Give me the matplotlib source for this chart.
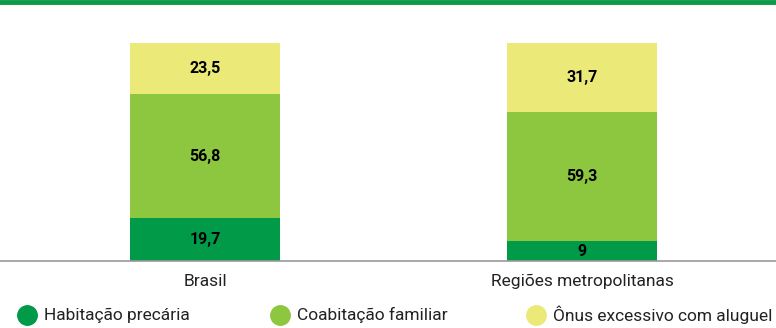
import matplotlib.pyplot as plt
from matplotlib.lines import Line2D

categories = ["Brasil", "Regiões metropolitanas"]
series_names = ["Habitação precária", "Coabitação familiar", "Ônus excessivo com aluguel"]
precaria = [19.7, 9]
coabitacao = [56.8, 59.3]
onus = [23.5, 31.7]
labels_precaria = ["19,7", "9"]
labels_coabitacao = ["56,8", "59,3"]
labels_onus = ["23,5", "31,7"]

colors = ["#009a49", "#8dc63f", "#ebe977"]

plt.rcParams["font.family"] = ["Roboto", "DejaVu Sans"]

fig = plt.figure(figsize=(7.76, 3.28), dpi=100)
ax = fig.add_axes([0, 67 / 328, 1, 218 / 328])

x = [0, 1]
bottoms = [0, 0]
for vals, labs, col in [(precaria, labels_precaria, colors[0]),
                        (coabitacao, labels_coabitacao, colors[1]),
                        (onus, labels_onus, colors[2])]:
    ax.bar(x, vals, bottom=bottoms, width=0.40, color=col, linewidth=0)
    for xi, b, v, lab in zip(x, bottoms, vals, labs):
        ax.text(xi, b + v / 2, lab, ha="center", va="center",
                fontsize=11.5, fontweight="bold", color="black")
    bottoms = [b + v for b, v in zip(bottoms, vals)]

ax.set_xlim(-205 / 377, 1 + 194 / 377)
ax.set_ylim(0, 100)
ax.set_xticks(x)
ax.set_xticklabels(categories, fontsize=12.5, color="#222222")
ax.tick_params(axis="x", length=0, pad=9)
ax.set_yticks([])
for s in ["top", "left", "right"]:
    ax.spines[s].set_visible(False)
ax.spines["bottom"].set_color("#999999")
ax.spines["bottom"].set_linewidth(1.2)

# top green rule
fig.add_artist(Line2D([0, 1], [1 - 2 / 328, 1 - 2 / 328], color="#0a9a4a",
                      linewidth=3.5, transform=fig.transFigure))

# legend
legend_x = [27, 280, 536]
for px, name, col in zip(legend_x, series_names, colors):
    fig.add_artist(Line2D([px / 776], [1 - 315 / 328], marker="o", markersize=14,
                          color=col, linestyle="", transform=fig.transFigure))
    fig.text((px + 17) / 776, 1 - 315 / 328, name, fontsize=12.5, va="center",
             ha="left", color="#222222")

fig.savefig("out.png", dpi=100)
